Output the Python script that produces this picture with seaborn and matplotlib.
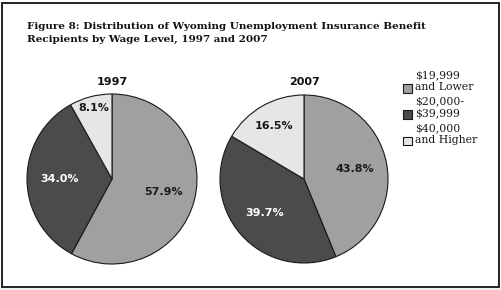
import matplotlib
matplotlib.use("Agg")
import matplotlib.pyplot as plt
from matplotlib.patches import Rectangle
import numpy as np
import seaborn as sns

# ---- data ----
categories = ["$19,999\nand Lower", "$20,000-\n$39,999", "$40,000\nand Higher"]
years = ["1997", "2007"]
values_1997 = [57.9, 34.0, 8.1]
values_2007 = [43.8, 39.7, 16.5]
title = "Figure 8: Distribution of Wyoming Unemployment Insurance Benefit\nRecipients by Wage Level, 1997 and 2007"

sns.set_theme(style="white")
plt.rcParams["font.family"] = ["DejaVu Sans"]
colors = sns.color_palette(["#a0a0a2", "#4b4b4d", "#e6e6e6"])
text_colors = ["#1a1a1a", "white", "#1a1a1a"]

W, H = 502, 290
fig = plt.figure(figsize=(W / 100, H / 100), dpi=100)
fig.patch.set_facecolor("white")

# frame
fig.patches.append(Rectangle((2 / W, 3 / H), 497.5 / W, 284.5 / H, transform=fig.transFigure,
                             fill=False, edgecolor="#222222", linewidth=1.4, zorder=0))
fig.patches.append(Rectangle((0, 0), 1, 2.5 / H, transform=fig.transFigure,
                             facecolor="#efefef", edgecolor="none", zorder=0))

fig.text(27 / W, 1 - 33 / H, title, ha="left", va="center", fontsize=7.5,
         fontweight="bold", family="DejaVu Serif", linespacing=1.45, color="#111111")

pies = [(112, 179, 85, years[0], values_1997), (304, 179, 84, years[1], values_2007)]
for cx, cy, r, yr, vals in pies:
    ax = fig.add_axes([(cx - r) / W, (H - cy - r) / H, 2 * r / W, 2 * r / H])
    wedges, texts, autotexts = ax.pie(
        vals, colors=colors, startangle=90, counterclock=False,
        autopct="%.1f%%", pctdistance=0.62,
        wedgeprops=dict(edgecolor="#1a1a1a", linewidth=0.8),
        textprops=dict(fontsize=8, fontweight="bold"))
    for i, (w, t) in enumerate(zip(wedges, autotexts)):
        t.set_color(text_colors[i])
        share = vals[i] / sum(vals)
        if share < 0.2:
            ang = np.deg2rad((w.theta1 + w.theta2) / 2)
            d = 0.86 if share < 0.1 else 0.73
            t.set_position((d * np.cos(ang), d * np.sin(ang)))
    ax.set_xlim(-1, 1)
    ax.set_ylim(-1, 1)
    ax.set_aspect("equal")
    ax.axis("off")
    fig.text(cx / W, 1 - 82 / H, yr, ha="center", va="center", fontsize=8,
             fontweight="bold", color="#111111")

# legend (square swatch aligned with the second text line)
for i, (lab, col) in enumerate(zip(categories, colors)):
    sy = [88, 114.5, 141][i]
    fig.patches.append(Rectangle((403 / W, 1 - (sy + 4.5) / H), 9 / W, 9 / H,
                                 transform=fig.transFigure, facecolor=col,
                                 edgecolor="#1a1a1a", linewidth=0.8))
    fig.text(415 / W, 1 - (sy - 7) / H, lab, ha="left", va="center",
             fontsize=7.8, family="DejaVu Serif", linespacing=1.3,
             color="#1a1a1a", parse_math=False)

fig.savefig("out.png", dpi=100, facecolor="white")
